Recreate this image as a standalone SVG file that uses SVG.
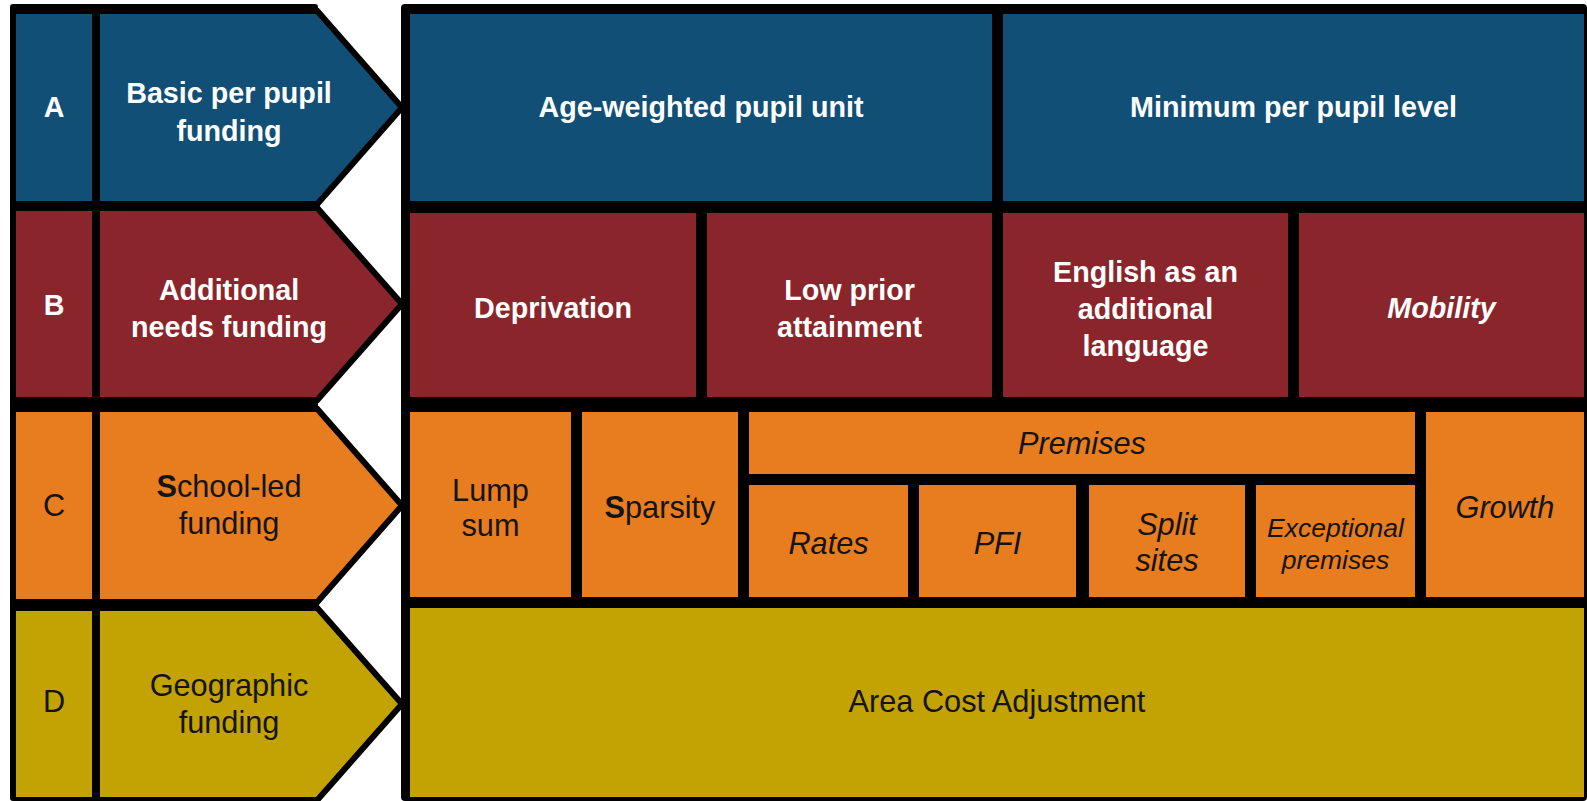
<svg xmlns="http://www.w3.org/2000/svg" width="1587" height="801" viewBox="0 0 1587 801">
<style>
.t{font-family:"Liberation Sans",Arial,sans-serif;text-anchor:middle}
.b{font-weight:bold;font-size:28.7px}
.r{font-size:30.7px}
.i{font-style:italic}
.w{fill:#ffffff}
.k{fill:#141414}
.blue{fill:#114f76}
.red{fill:#8a252c}
.org{fill:#e77d1f}
.olv{fill:#c3a204}
.ol{fill:#000;stroke:#000;stroke-width:12;stroke-linejoin:miter}
</style>
<rect width="1587" height="801" fill="#ffffff"/>
<g id="frames">
<rect x="10" y="4" width="308" height="797" fill="#000" rx="3"/>
<rect x="401" y="4" width="1186" height="797" fill="#000" rx="4"/>
<polygon class="ol" points="100,14 316,14 398,107.5 316,201 100,201"/>
<polygon class="ol" points="100,211 316,211 398,304 316,397 100,397"/>
<polygon class="ol" points="100,412 316,412 398,505.5 316,599 100,599"/>
<polygon class="ol" points="100,611 316,611 398,704 316,797 100,797"/>
</g>
<g id="rowA">
<g id="A"><rect class="blue" x="16" y="14" width="76" height="187"/><text class="t b w" x="54" y="117">A</text></g>
<g id="basic"><polygon class="blue" points="100,14 316,14 398,107.5 316,201 100,201"/><text class="t b w" x="229" y="103">Basic per pupil</text><text class="t b w" x="229" y="141">funding</text></g>
<g id="ageweighted"><rect class="blue" x="410" y="14" width="582" height="187"/><text class="t b w" x="701" y="117">Age-weighted pupil unit</text></g>
<g id="minimum"><rect class="blue" x="1003" y="14" width="581" height="187"/><text class="t b w" x="1293.5" y="117">Minimum per pupil level</text></g>
</g>
<g id="rowB">
<g id="B"><rect class="red" x="16" y="211" width="76" height="186"/><text class="t b w" x="54" y="315">B</text></g>
<g id="additional"><polygon class="red" points="100,211 316,211 398,304 316,397 100,397"/><text class="t b w" x="229" y="300">Additional</text><text class="t b w" x="229" y="337">needs funding</text></g>
<g id="deprivation"><rect class="red" x="410" y="213" width="286" height="184"/><text class="t b w" x="553" y="318">Deprivation</text></g>
<g id="lowprior"><rect class="red" x="707" y="213" width="285" height="184"/><text class="t b w" x="849.5" y="300">Low prior</text><text class="t b w" x="849.5" y="337">attainment</text></g>
<g id="eal"><rect class="red" x="1003" y="213" width="285" height="184"/><text class="t b w" x="1145.5" y="282">English as an</text><text class="t b w" x="1145.5" y="319">additional</text><text class="t b w" x="1145.5" y="356">language</text></g>
<g id="mobility"><rect class="red" x="1299" y="213" width="285" height="184"/><text class="t b w i" x="1441.5" y="318">Mobility</text></g>
</g>
<g id="rowC">
<g id="C"><rect class="org" x="16" y="412" width="76" height="187"/><text class="t r k" x="54" y="516">C</text></g>
<g id="schoolled"><polygon class="org" points="100,412 316,412 398,505.5 316,599 100,599"/><text class="t r k" x="229" y="497"><tspan font-weight="bold">S</tspan>chool-led</text><text class="t r k" x="229" y="534">funding</text></g>
<g id="lumpsum"><rect class="org" x="410" y="412" width="161" height="185"/><text class="t r k" x="490.5" y="501">Lump</text><text class="t r k" x="490.5" y="536">sum</text></g>
<g id="sparsity"><rect class="org" x="582" y="412" width="156" height="185"/><text class="t r k" x="660" y="518"><tspan font-weight="bold">S</tspan>parsity</text></g>
<g id="premises"><rect class="org" x="749" y="412" width="666" height="62"/><text class="t r k i" x="1082" y="454">Premises</text></g>
<g id="rates"><rect class="org" x="749" y="485" width="159" height="112"/><text class="t r k i" x="828.5" y="554">Rates</text></g>
<g id="pfi"><rect class="org" x="919" y="485" width="157" height="112"/><text class="t r k i" x="997.5" y="554">PFI</text></g>
<g id="splitsites"><rect class="org" x="1089" y="485" width="156" height="112"/><text class="t r k i" x="1167" y="535">Split</text><text class="t r k i" x="1167" y="571">sites</text></g>
<g id="exceptional"><rect class="org" x="1256" y="485" width="159" height="112"/><text class="t k i" font-size="26.5" x="1335.5" y="537">Exceptional</text><text class="t k i" font-size="26.5" x="1335.5" y="569">premises</text></g>
<g id="growth"><rect class="org" x="1426" y="412" width="158" height="185"/><text class="t r k i" x="1505" y="518">Growth</text></g>
</g>
<g id="rowD">
<g id="D"><rect class="olv" x="16" y="611" width="76" height="186"/><text class="t r k" x="54" y="712">D</text></g>
<g id="geographic"><polygon class="olv" points="100,611 316,611 398,704 316,797 100,797"/><text class="t r k" x="229" y="696">Geographic</text><text class="t r k" x="229" y="733">funding</text></g>
<g id="aca"><rect class="olv" x="410" y="608" width="1174" height="189"/><text class="t r k" x="997" y="712">Area Cost Adjustment</text></g>
</g>
<g id="connectors"/>
</svg>
